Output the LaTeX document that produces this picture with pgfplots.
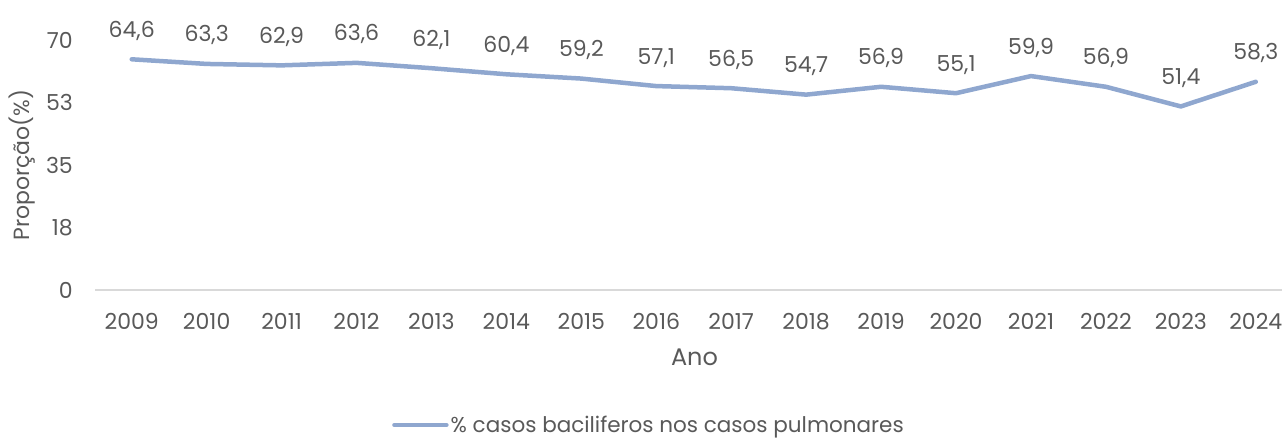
\documentclass[border=0pt]{standalone}
\usepackage{fontspec}
\setmainfont{Poppins}
\usepackage{pgfplots}
\pgfplotsset{compat=1.18}
\definecolor{linec}{HTML}{8FA7CF}
\definecolor{txt}{HTML}{595959}
\definecolor{axl}{HTML}{D9D9D9}
\begin{document}
\begin{tikzpicture}
\begin{axis}[
  at={(95bp,149bp)}, anchor=south west,
  scale only axis, width=1187bp, height=250bp,
  xmin=-0.49, xmax=15.35, ymin=0, ymax=70,
  axis line style={draw=none},
  clip=false,
  xtick={0,...,15},
  xticklabels={2009,2010,2011,2012,2013,2014,2015,2016,2017,2018,2019,2020,2021,2022,2023,2024},
  ytick={0,17.5,35,52.5,70},
  yticklabels={0,18,35,53,70},
  font=\fontsize{22bp}{26bp}\selectfont,
  every tick label/.append style={text=txt, inner sep=0pt},
  xticklabel style={anchor=base, yshift=-39bp},
  yticklabel style={anchor=east, xshift=-22bp},
  major tick length=0pt,
  xlabel={Ano},
  xlabel style={at={(axis description cs:0.505,-0.268)}, anchor=center, text=txt, inner sep=0pt, font=\fontsize{24bp}{28bp}\selectfont},
  ylabel={Proporção(\%)},
  ylabel style={at={(axis description cs:-0.0615,0.5)}, anchor=center, rotate=0, text=txt, inner sep=0pt, font=\fontsize{22bp}{26bp}\selectfont},
  legend style={at={(axis description cs:0.2502,-0.540)}, anchor=west, draw=none, inner sep=0pt, text=txt, font=\fontsize{21.5bp}{25bp}\selectfont, /tikz/every even column/.style={column sep=4bp}},
  legend cell align=left,
  legend image code/.code={\draw[#1, line width=4.5bp, line cap=round] (0bp,0bp) -- (52bp,0bp);},
  nodes near coords,
  point meta=explicit symbolic,
  nodes near coords style={anchor=base, yshift=22bp, inner sep=0pt, text=txt, font=\fontsize{22bp}{26bp}\selectfont},
]
\draw[axl, line width=1.2bp] (axis cs:-0.49,0) -- (axis cs:15.35,0);
\addplot[linec, line width=4.5bp, line join=round, line cap=round] table[meta=lab] {
x y lab
0 64.6 64,6
1 63.3 63,3
2 62.9 62,9
3 63.6 63,6
4 62.1 62,1
5 60.4 60,4
6 59.2 59,2
7 57.1 57,1
8 56.5 56,5
9 54.7 54,7
10 56.9 56,9
11 55.1 55,1
12 59.9 59,9
13 56.9 56,9
14 51.4 51,4
15 58.3 58,3
};
\addlegendentry{\% casos baciliferos nos casos pulmonares}
\end{axis}
\pgfresetboundingbox
\useasboundingbox (0,0) rectangle (1282bp,439bp);
\end{tikzpicture}
\end{document}
